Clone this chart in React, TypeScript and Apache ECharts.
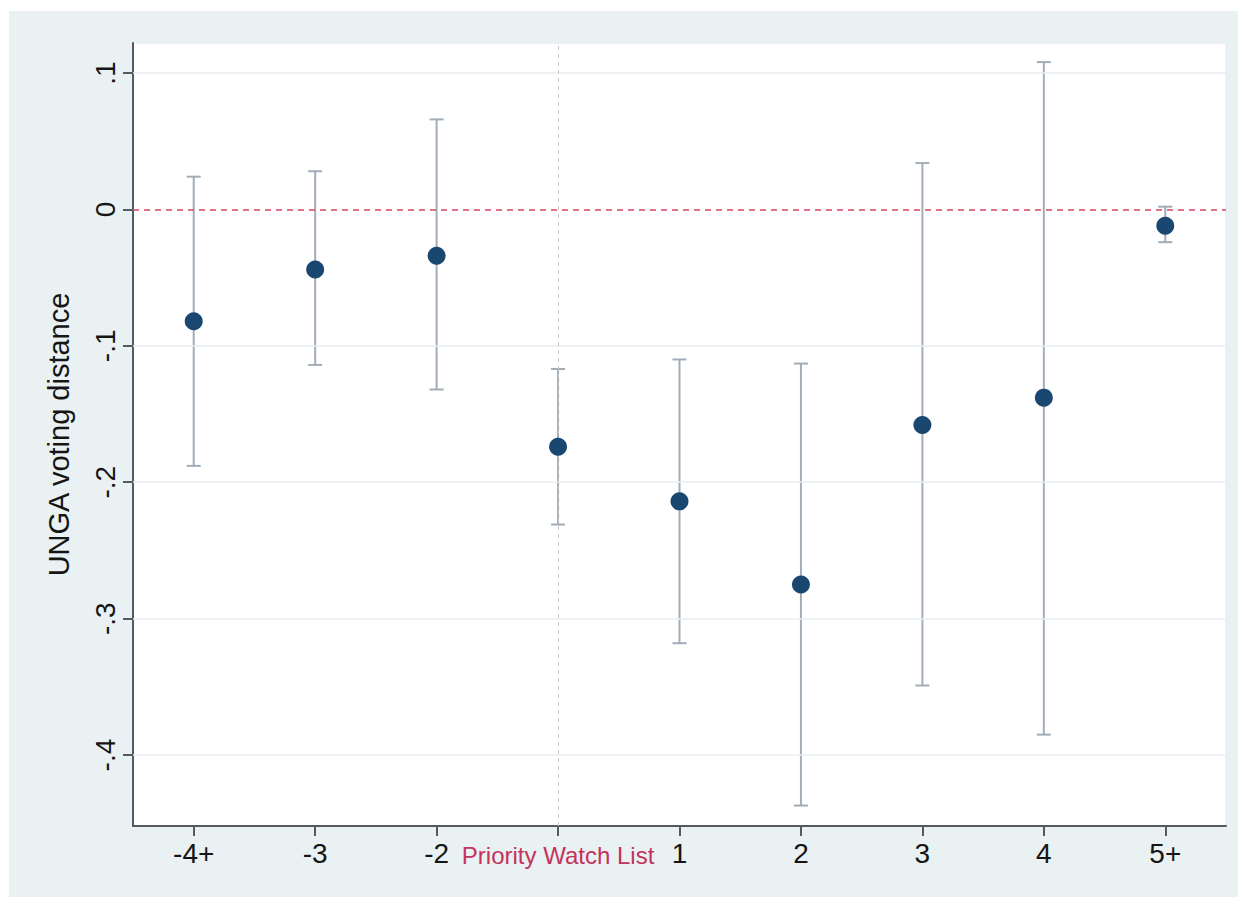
import React, { useEffect, useRef } from "react";
import * as echarts from "echarts";

const categories = ["-4+", "-3", "-2", "Priority Watch List", "1", "2", "3", "4", "5+"];
const estimates = [-0.082, -0.044, -0.034, -0.174, -0.214, -0.275, -0.158, -0.138, -0.012];
const upperCI = [0.024, 0.028, 0.066, -0.117, -0.11, -0.113, 0.034, 0.108, 0.002];
const lowerCI = [-0.188, -0.114, -0.132, -0.231, -0.318, -0.437, -0.349, -0.385, -0.024];
const yTicks = [0.1, 0, -0.1, -0.2, -0.3, -0.4];
const yTickLabels = [".1", "0", "-.1", "-.2", "-.3", "-.4"];
const yMin = -0.452;
const yMax = 0.122;
const referenceCategory = "Priority Watch List";

const FONT = "'Liberation Sans', Arial, Helvetica, sans-serif";

export default function App() {
  const ref = useRef<HTMLDivElement>(null);

  useEffect(() => {
    if (!ref.current) return;
    const chart = echarts.init(ref.current, null, { renderer: "svg" });
    const barColor = "#a3adb8";
    const option: any = {
      animation: false,
      backgroundColor: "#ffffff",
      graphic: [
        {
          type: "rect",
          z: -10,
          silent: true,
          shape: { x: 9, y: 11, width: 1229, height: 886 },
          style: { fill: "#e9f1f3" },
        },
      ],
      grid: {
        left: 133,
        top: 43,
        right: 20,
        bottom: 83,
        show: true,
        backgroundColor: "#ffffff",
        borderColor: "#e3eaed",
        borderWidth: 1,
      },
      xAxis: {
        type: "category",
        data: categories,
        boundaryGap: true,
        axisLine: { show: true, onZero: false, lineStyle: { color: "#555a5e", width: 2 } },
        axisTick: { show: true, alignWithLabel: true, interval: 0, length: 10, lineStyle: { color: "#555a5e", width: 2 } },
        axisLabel: {
          interval: 0,
          margin: 13,
          fontSize: 28,
          color: "#151515",
          fontFamily: FONT,
          formatter: (v: string) => (v === referenceCategory ? "{pwl|" + v + "}" : v),
          rich: {
            pwl: { fontSize: 24, color: "#c4335c", fontFamily: FONT, padding: [4, 0, 0, 0] },
          },
        },
        splitLine: { show: false },
      },
      yAxis: {
        type: "value",
        min: yMin,
        max: yMax,
        name: "UNGA voting distance",
        nameLocation: "middle",
        nameRotate: 90,
        nameGap: 60,
        nameTextStyle: { fontSize: 29, color: "#151515", fontFamily: FONT },
        axisLine: { show: true, onZero: false, lineStyle: { color: "#555a5e", width: 2 } },
        axisTick: { show: true, length: 10, customValues: yTicks, lineStyle: { color: "#555a5e", width: 2 } },
        axisLabel: {
          rotate: 90,
          margin: 14,
          fontSize: 28,
          color: "#151515",
          fontFamily: FONT,
          customValues: yTicks,
          formatter: (v: number) => {
            const i = yTicks.findIndex((t) => Math.abs(t - v) < 1e-9);
            return i >= 0 ? yTickLabels[i] : "";
          },
        },
        splitLine: { show: false },
      },
      series: [
        {
          type: "line",
          data: [],
          silent: true,
          markLine: {
            silent: true,
            symbol: "none",
            label: { show: false },
            lineStyle: { color: "#e8eef1", width: 1.5, type: "solid" },
            data: yTicks.filter((t) => t !== 0).map((t) => ({ yAxis: t })),
          },
        },
        {
          type: "line",
          data: [],
          silent: true,
          markLine: {
            silent: true,
            symbol: "none",
            label: { show: false },
            data: [
              { xAxis: referenceCategory, lineStyle: { color: "#c9c9c9", width: 1, type: [4, 4] } },
            ],
          },
        },
        {
          type: "custom",
          data: categories.map((_, i) => [i, lowerCI[i], upperCI[i]]),
          encode: { x: 0, y: [1, 2] },
          z: 3,
          renderItem: (params: any, api: any) => {
            const x = api.value(0);
            const lo = api.coord([x, api.value(1)]);
            const hi = api.coord([x, api.value(2)]);
            const hw = 7;
            const style = { stroke: barColor, lineWidth: 2 };
            return {
              type: "group",
              children: [
                { type: "line", shape: { x1: lo[0], y1: lo[1], x2: hi[0], y2: hi[1] }, style },
                { type: "line", shape: { x1: lo[0] - hw, y1: lo[1], x2: lo[0] + hw, y2: lo[1] }, style },
                { type: "line", shape: { x1: hi[0] - hw, y1: hi[1], x2: hi[0] + hw, y2: hi[1] }, style },
              ],
            };
          },
        },
        {
          type: "line",
          data: [],
          silent: true,
          z: 4,
          markLine: {
            silent: true,
            symbol: "none",
            label: { show: false },
            data: [{ yAxis: 0, lineStyle: { color: "#d9455f", width: 1.5, type: [6, 5] } }],
          },
        },
        {
          type: "scatter",
          data: estimates,
          symbol: "circle",
          symbolSize: 18,
          z: 5,
          itemStyle: { color: "#1a476f", opacity: 1 },
        },
      ],
    };
    chart.setOption(option);
    return () => chart.dispose();
  }, []);

  return (
    <div
      ref={ref}
      style={{ position: "absolute", left: 0, top: 0, width: 1246, height: 909 }}
    />
  );
}
